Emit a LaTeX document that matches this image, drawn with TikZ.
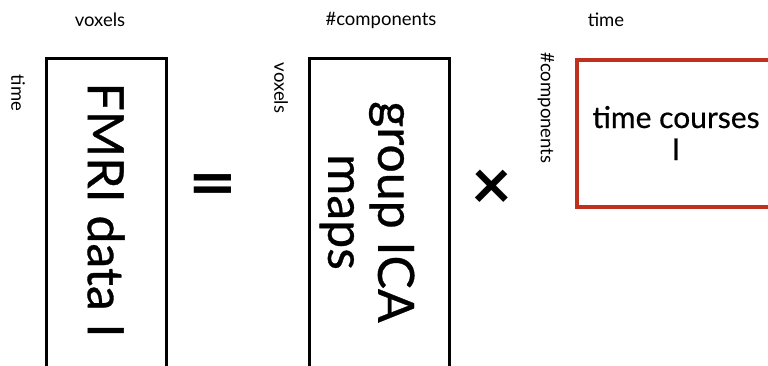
\documentclass[tikz,border=0pt]{standalone}
\usepackage{fontspec}
\setmainfont{Lato}
\newfontfamily\medfont{Lato}[FakeBold=0.6]
\definecolor{boxred}{HTML}{C0301F}
\begin{document}
\begin{tikzpicture}[x=1pt,y=-1pt,
  mat/.style={draw=black,line width=3pt,inner sep=0pt},
  redmat/.style={draw=boxred,line width=3.5pt,inner sep=0pt},
  dimlab/.style={font=\fontsize{18.5}{20}\selectfont,inner sep=0pt},
  big/.style={font=\medfont\fontsize{50}{56}\selectfont,inner sep=0pt},
  mid/.style={font=\medfont\fontsize{30}{32}\selectfont,inner sep=0pt,align=center}]
\useasboundingbox (0,0) rectangle (768,365);
\clip (0,0) rectangle (768,365);
% matrix 1
\node[mat,minimum width=120pt,minimum height=360pt] (m1) at (106,238) {};
\node[dimlab] (l1t) at (100,20) {voxels};
\node[dimlab,rotate=-90] (l1s) at (18,93) {time};
\node[big,rotate=-90] (t1) at (106,210) {FMRI data I};
% equals
\node[font=\fontsize{70}{70}\selectfont\bfseries,inner sep=0pt,xscale=1.2] (eq) at (213,191) {=};
% matrix 2
\node[mat,minimum width=140pt,minimum height=360pt] (m2) at (379,238) {};
\node[dimlab] (l2t) at (381,20) {\#components};
\node[dimlab,rotate=-90] (l2s) at (281,88) {voxels};
\node[big,rotate=-90,align=center,font=\medfont\fontsize{50}{50}\selectfont] (t2) at (367,212) {group ICA\\maps};
% times
\node[font=\fontsize{70}{70}\selectfont\bfseries,inner sep=0pt] (x) at (492,190) {×};
% matrix 3
\node[redmat,minimum width=199pt,minimum height=147pt] (m3) at (676.5,133.5) {};
\node[dimlab] (l3t) at (606,20) {time};
\node[dimlab,rotate=-90] (l3s) at (546,108) {\#components};
\node[mid] (t3) at (676,133) {time courses\\I};
\end{tikzpicture}
\end{document}
